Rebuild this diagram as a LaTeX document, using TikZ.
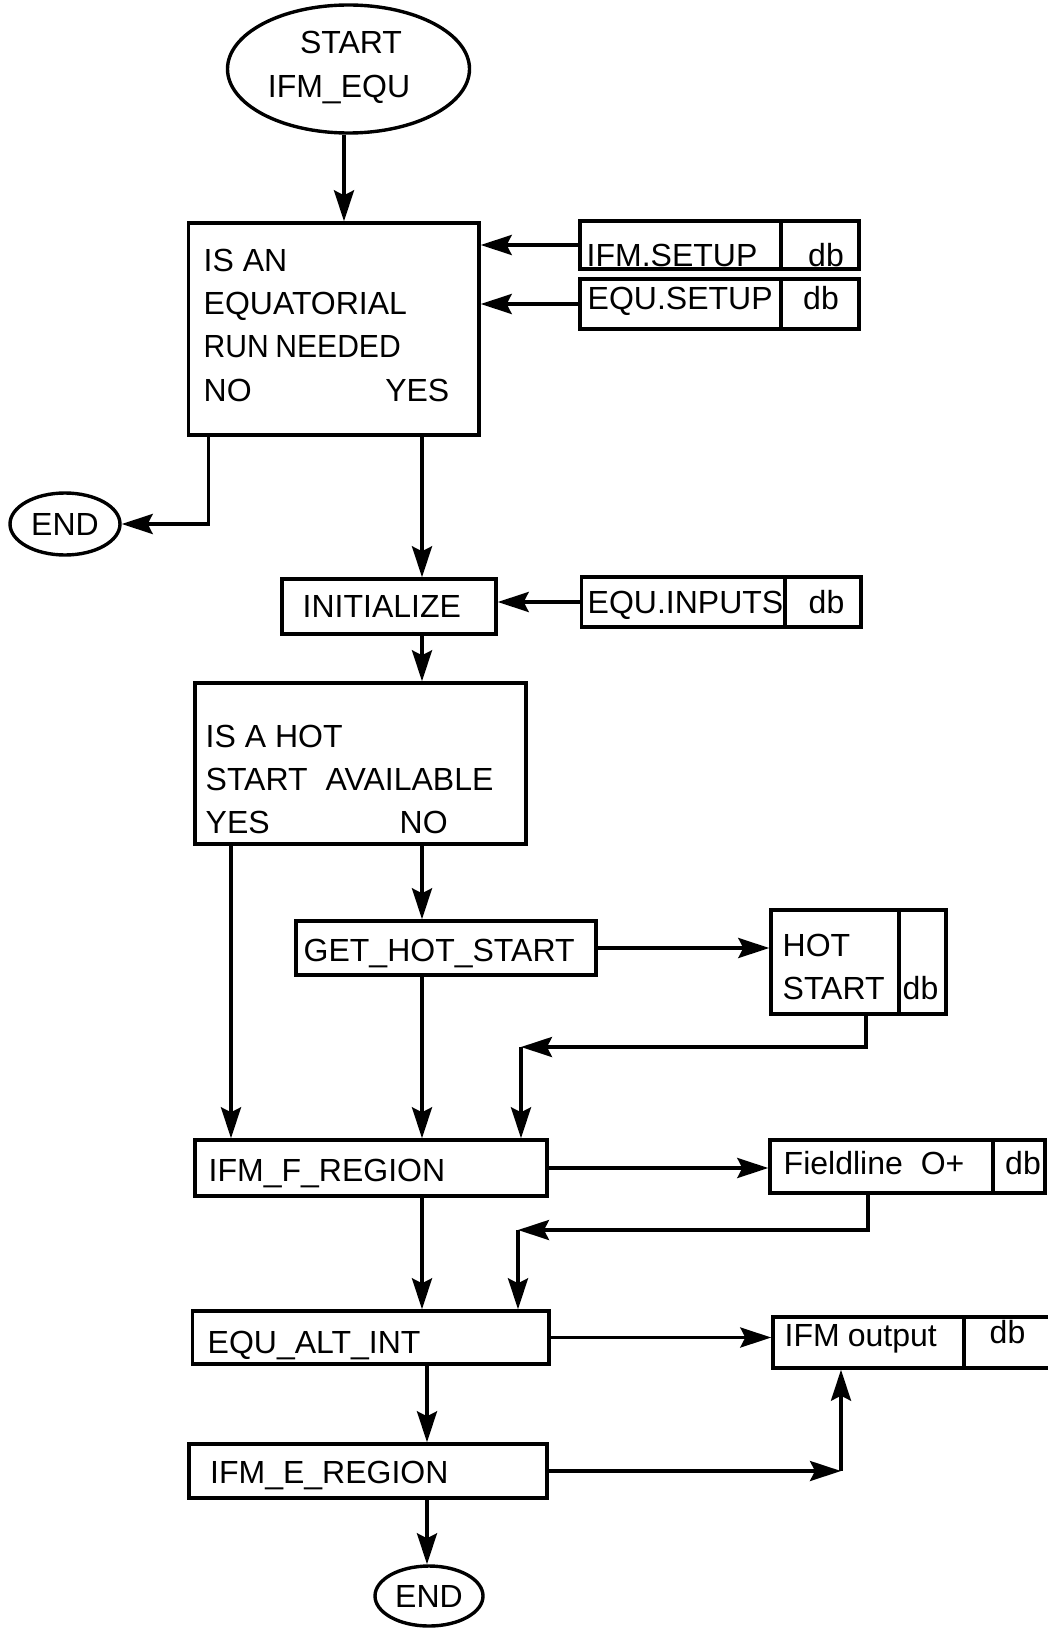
\documentclass[tikz,border=0pt]{standalone}
\usepackage{fontspec}
\setmainfont{Liberation Sans}
\usetikzlibrary{arrows.meta,shapes.geometric}
\begin{document}
\begin{tikzpicture}[x=1pt,y=-1pt,line width=3.4pt,
  font=\fontsize{32}{38}\selectfont,
  box/.style={draw, rectangle, inner sep=0pt},
  oval/.style={draw, ellipse, inner sep=0pt},
  txt/.style={inner sep=0pt, anchor=base west},
  ctxt/.style={inner sep=0pt, anchor=base},
  arr/.style={-{Stealth[length=31pt,width=20pt,inset=5pt]}},
]
\useasboundingbox (0,0) rectangle (1048,1629);
% shapes
\node[oval, minimum width=242pt, minimum height=128pt] (start) at (348.5,69) {};
\node[box, minimum width=290.5pt, minimum height=212pt] (box1) at (333.75,329) {};
\node[box, minimum width=201pt, minimum height=48pt] (ifmsetup) at (680.5,245) {};
\node[box, minimum width=78pt, minimum height=48pt] (ifmsetupdb) at (820,245) {};
\node[box, minimum width=201pt, minimum height=50pt] (equsetup) at (680.5,304) {};
\node[box, minimum width=78pt, minimum height=50pt] (equsetupdb) at (820,304) {};
\node[oval, minimum width=110pt, minimum height=62pt] (end1) at (65,524) {END};
\node[box, minimum width=214pt, minimum height=55pt] (init) at (389,606.5) {};
\node[box, minimum width=203.5pt, minimum height=50pt] (equinputs) at (683.25,602) {};
\node[box, minimum width=76pt, minimum height=50pt] (equinputsdb) at (823,602) {};
\node[box, minimum width=331pt, minimum height=161pt] (box2) at (360.5,763.5) {};
\node[box, minimum width=300pt, minimum height=54pt] (ghs) at (446,948) {};
\node[box, minimum width=128pt, minimum height=104pt] (hot) at (835,962) {};
\node[box, minimum width=47pt, minimum height=104pt] (hotdb) at (922.5,962) {};
\node[box, minimum width=352pt, minimum height=56pt] (ffr) at (371,1168) {};
\node[box, minimum width=223pt, minimum height=53pt] (field) at (881.5,1166.5) {};
\node[box, minimum width=52pt, minimum height=53pt] (fielddb) at (1019,1166.5) {};
\node[box, minimum width=356.5pt, minimum height=53pt] (eai) at (370.75,1337.5) {};
\node[box, minimum width=191pt, minimum height=51pt] (out) at (868.5,1342.5) {};
\node[box, minimum width=92pt, minimum height=51pt] (outdb) at (1010,1342.5) {};
\node[box, minimum width=358pt, minimum height=54pt] (ier) at (368,1471) {};
\node[oval, minimum width=108pt, minimum height=60pt] (end2) at (429,1596) {END};
% texts
\node[ctxt] (tstart) at (351,53.5) {START};
\node[ctxt] (tifmequ) at (339,98) {IFM\_EQU};
\node[txt] (t1a) at (202,271) {IS AN};
\node[txt] (t1b) at (202,314) {EQUATORIAL};
\node[txt] (t1c) at (202,357) {\scalebox{0.94}[1]{RUN\hspace{7pt}NEEDED}};
\node[txt] (t1no) at (202,401) {NO};
\node[inner sep=0pt, anchor=base east] (t1yes) at (451,401) {YES};
\node[txt] (tifmsetup) at (585,266) {IFM.SETUP};
\node[ctxt] (tdb1) at (826,266) {db};
\node[txt] (tequsetup) at (586,309) {EQU.SETUP};
\node[ctxt] (tdb2) at (821,309) {db};
\node[txt] (tinit) at (301,617) {INITIALIZE};
\node[txt] (tequinputs) at (586,613) {EQU.INPUTS};
\node[ctxt] (tdb3) at (826.5,613) {db};
\node[txt] (t2a) at (204,747) {IS A HOT};
\node[txt] (t2b) at (204,790) {START\hspace{18pt}AVAILABLE};
\node[txt] (t2yes) at (204,833) {YES};
\node[txt] (t2no) at (398,833) {NO};
\node[txt] (tghs) at (302,961) {GET\_HOT\_START};
\node[txt] (thot1) at (781,956) {HOT};
\node[txt] (thot2) at (781,999) {START};
\node[ctxt] (tdb4) at (920.5,999) {db};
\node[txt] (tffr) at (207,1181) {IFM\_F\_REGION};
\node[txt] (tfield) at (782,1174) {Fieldline\hspace{18pt}O+};
\node[ctxt] (tdb5) at (1023,1174) {db};
\node[txt] (teai) at (206,1353) {EQU\_ALT\_INT};
\node[txt] (tout) at (783,1346) {IFM\hspace{8pt}output};
\node[ctxt] (tdb6) at (1007.5,1343) {db};
\node[txt] (tier) at (208.5,1483) {IFM\_E\_REGION};
% helper coordinates
\coordinate (cS) at (344,0);
\coordinate (cNo) at (208.5,0);
\coordinate (cA) at (422,0);
\coordinate (cY) at (231,0);
\coordinate (cB) at (427,0);
\coordinate (hx) at (866,0);
\coordinate (k1) at (521,1047);
\coordinate (fx) at (868,0);
\coordinate (k2) at (518,1230);
\coordinate (k3) at (841,0);
% connectors
\draw[arr] (start.south -| cS) -- (box1.north -| cS);
\draw[arr] (ifmsetup.west) -- (ifmsetup.west -| box1.east);
\draw[arr] (equsetup.west) -- (equsetup.west -| box1.east);
\draw[arr] (box1.south -| cNo) |- (end1.east);
\draw[arr] (box1.south -| cA) -- (init.north -| cA);
\draw[arr] (equinputs.west) -- (equinputs.west -| init.east);
\draw[arr] (init.south -| cA) -- (box2.north -| cA);
\draw[arr] (box2.south -| cA) -- (ghs.north -| cA);
\draw[arr] (ghs.east) -- (ghs.east -| hot.west);
\draw[arr] (box2.south -| cY) -- (ffr.north -| cY);
\draw[arr] (ghs.south -| cA) -- (ffr.north -| cA);
\draw[arr] (hot.south -| hx) |- (k1);
\draw[arr] (k1) -- (ffr.north -| k1);
\draw[arr] (ffr.east) -- (ffr.east -| field.west);
\draw[arr] (ffr.south -| cA) -- (eai.north -| cA);
\draw[arr] (field.south -| fx) |- (k2);
\draw[arr] (k2) -- (eai.north -| k2);
\draw[arr] (eai.east) -- (eai.east -| out.west);
\draw[arr] (eai.south -| cB) -- (ier.north -| cB);
\draw[arr] (ier.east) -- (ier.east -| k3);
\draw[arr] (ier.east -| k3) -- (out.south -| k3);
\draw[arr] (ier.south -| cB) -- (end2.north -| cB);
\end{tikzpicture}
\end{document}
